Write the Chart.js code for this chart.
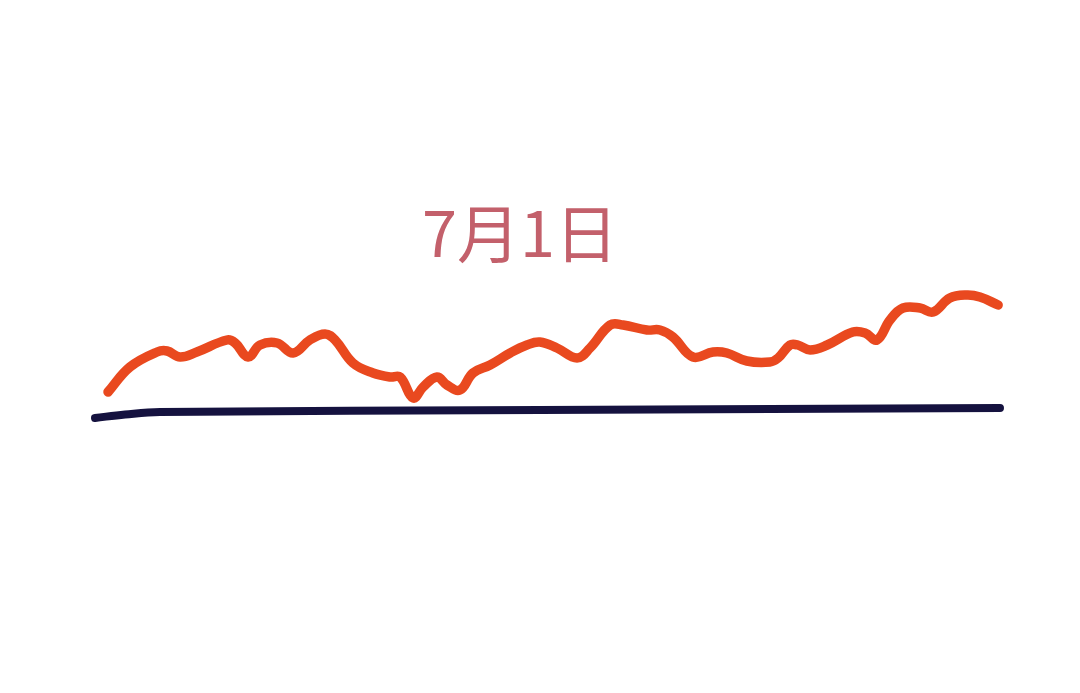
<!DOCTYPE html>
<html>
<head>
<meta charset="utf-8">
<script src="https://cdn.jsdelivr.net/npm/chart.js@4"></script>
<style>
  html, body { margin: 0; padding: 0; background: #ffffff; }
  #wrap { position: relative; width: 1080px; height: 693px; }
  #day {
    position: absolute; left: 520px; top: 229px;
    transform: translate(-50%, -50%);
    font-family: "Noto Sans CJK SC", "Noto Sans", sans-serif;
    font-size: 63px; font-weight: 400; color: #c3606b; white-space: nowrap; line-height: 1;
  }
</style>
</head>
<body>
<div id="wrap">
  <canvas id="dayChart" width="1080" height="693"></canvas>
  <div id="day">7月1日</div>
</div>
<script>
// Intraday sketch: minutes into the session vs. level above the previous close.
const minutes = [0, 5.9, 13.2, 15.9, 19.4, 23.9, 32.0, 34.2, 37.7, 40.9, 45.5, 49.8, 54.3, 58.4, 61.1,
  65.9, 71.3, 75.9, 78.6, 82.1, 84.8, 88.5, 91.2, 94.7, 98.2, 102.8, 108.2, 112.7, 116.2, 120.8,
  126.2, 129.7, 135.1, 138.6, 145.0, 148.5, 152.0, 157.4, 162.8, 166.5, 171.9, 178.1, 180.3, 183.5,
  185.6, 188.9, 193.5, 200.4, 203.7, 206.9, 210.4, 213.9, 218.5, 222.0, 226.5, 231.1, 234.6, 239.5];
const levels = [21, 46, 61, 62, 56, 61, 73, 70, 56, 68, 70, 60, 73, 79, 73,
  50, 40, 36, 36, 15, 26, 36, 28, 23, 40, 48, 60, 68, 71, 65,
  55, 65, 88, 88, 83, 83, 76, 56, 61, 60, 52, 51, 55, 68,
  68, 63, 68, 81, 80, 73, 93, 105, 105, 101, 115, 118, 116, 108];

// Previous-close reference line (hand drawn, slightly tilted).
const baseMinutes = [-3.5, 4.6, 14, 116.2, 240];
const baseLevels = [-5, -1.5, 1, 3, 5];

const LINE = "#e9491f";
const BASE = "#15123f";

const toPoints = (xs, ys) => xs.map((x, i) => ({ x: x, y: ys[i] }));

new Chart(document.getElementById("dayChart"), {
  type: "line",
  data: {
    datasets: [
      {
        data: toPoints(baseMinutes, baseLevels),
        borderColor: BASE,
        borderWidth: 8,
        borderCapStyle: "round",
        pointRadius: 0,
        tension: 0.4,
        clip: false
      },
      {
        data: toPoints(minutes, levels),
        borderColor: LINE,
        borderWidth: 9.5,
        borderCapStyle: "round",
        borderJoinStyle: "round",
        pointRadius: 0,
        tension: 0.4,
        clip: false
      }
    ]
  },
  options: {
    responsive: false,
    animation: false,
    layout: { padding: { left: 95, right: 80, top: 0, bottom: 0 } },
    plugins: { legend: { display: false }, tooltip: { enabled: false } },
    scales: {
      x: { type: "linear", min: -3.5, max: 240, display: false },
      y: { min: -280, max: 413, display: false }
    }
  }
});
</script>
</body>
</html>
